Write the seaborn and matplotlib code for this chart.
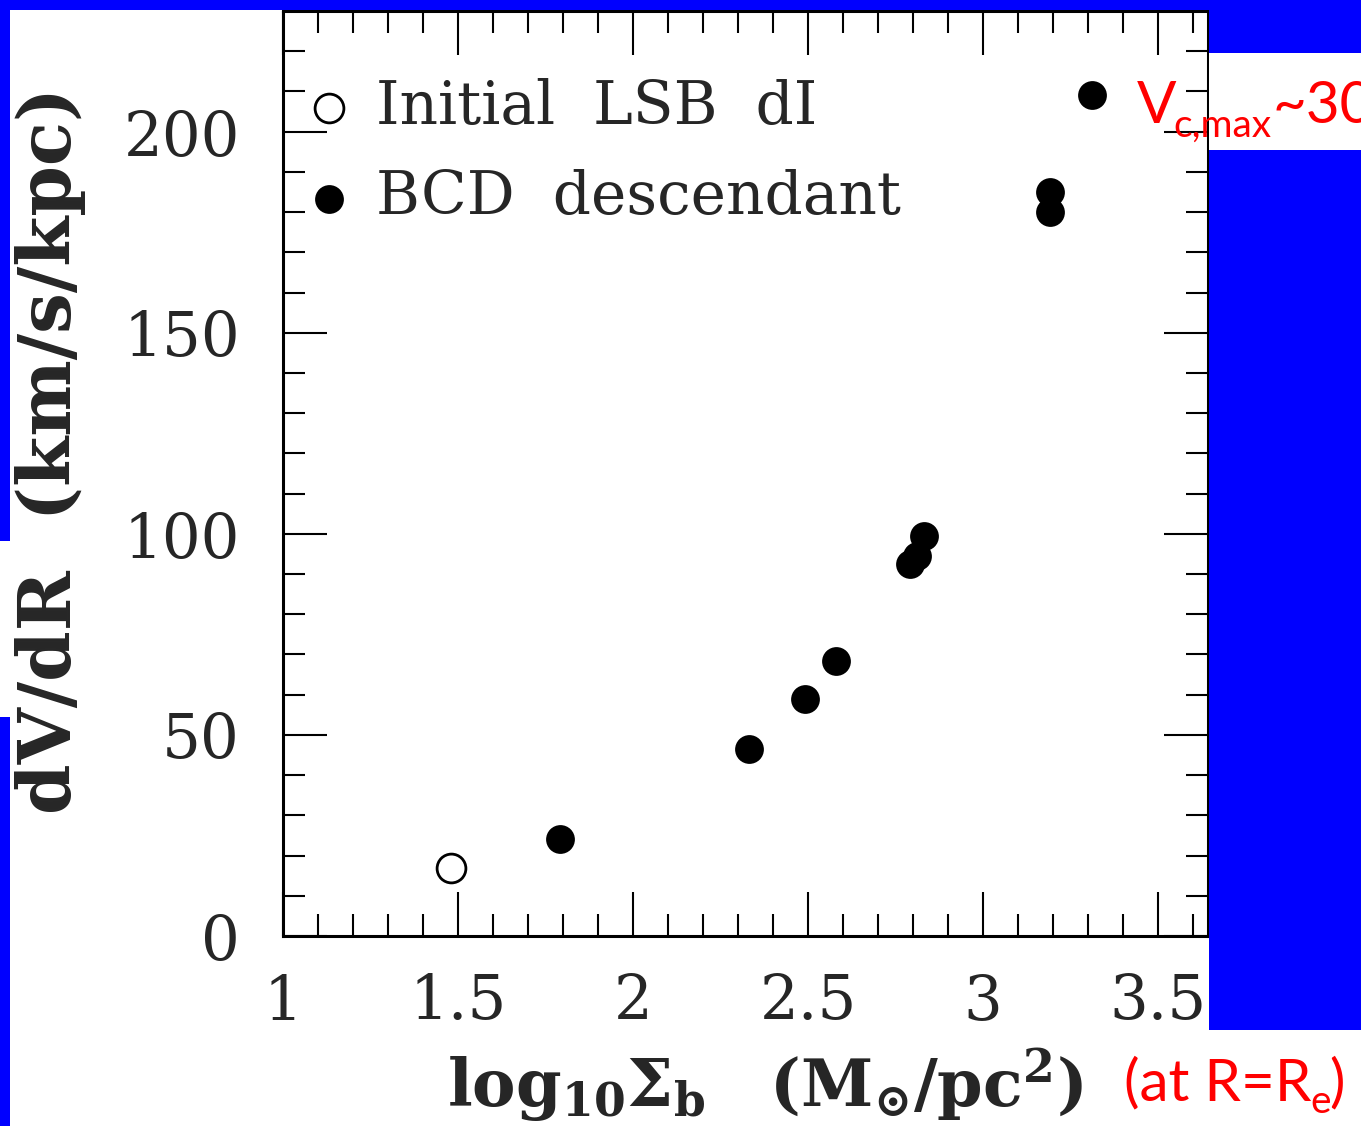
import matplotlib
matplotlib.use('Agg')
import matplotlib.pyplot as plt
import seaborn as sns
from matplotlib.patches import Rectangle
from matplotlib.ticker import MultipleLocator

# data -------------------------------------------------------------------
lsb_x = [1.48]
lsb_y = [17.0]
bcd_x = [1.79, 2.33, 2.49, 2.58, 2.79, 2.81, 2.83, 3.19, 3.19, 3.31]
bcd_y = [24.0, 46.5, 59.0, 68.5, 92.5, 94.5, 99.5, 180.0, 185.0, 209.0]

x_ticks = [1, 1.5, 2, 2.5, 3, 3.5]
x_tick_labels = ['1', '1.5', '2', '2.5', '3', '3.5']
y_ticks = [0, 50, 100, 150, 200]

# style ----------------------------------------------------------------
sns.set_style('ticks')
plt.rcParams['font.family'] = ['DejaVu Serif']
plt.rcParams['mathtext.fontset'] = 'dejavuserif'

W, H = 1361, 1126
fig = plt.figure(figsize=(W / 100, H / 100), dpi=100)
fig.patch.set_facecolor('white')
ax = fig.add_axes([283 / W, 1 - 936 / H, (1208 - 283) / W, (936 - 11) / H])

sns.scatterplot(x=lsb_x, y=lsb_y, ax=ax, s=430, facecolor='white',
                edgecolor='black', linewidth=2, label='Initial  LSB  dI', zorder=3)
sns.scatterplot(x=bcd_x, y=bcd_y, ax=ax, s=430, color='black',
                edgecolor='black', linewidth=0, label='BCD  descendant', zorder=3)

ax.set_xlim(1, 1 + (1208 - 283) / 350)
ax.set_ylim(0, 230)
ax.set_xticks(x_ticks)
ax.set_xticklabels(x_tick_labels)
ax.set_yticks(y_ticks)
ax.xaxis.set_minor_locator(MultipleLocator(0.1))
ax.yaxis.set_minor_locator(MultipleLocator(10))

ax.tick_params(which='both', direction='in', top=True, right=True,
               width=1.5, color='black')
ax.tick_params(which='major', length=32, labelsize=44)
ax.tick_params(which='minor', length=16)
ax.tick_params(axis='x', pad=26)
ax.tick_params(axis='y', pad=31)
for sp in ax.spines.values():
    sp.set_linewidth(2.2)
    sp.set_color('black')

ax.set_ylabel('dV/dR  (km/s/kpc)', fontsize=52, fontweight='bold',
              ha='center', va='center')
ax.yaxis.set_label_coords((50 - 283) / 925, (936 - 450) / 925)
ax.set_xlabel(r'$\mathbf{log_{10}\Sigma_b}$   $\mathbf{(M_{\odot}/pc^2)}$',
              fontsize=47, ha='center', va='center')
ax.xaxis.set_label_coords((765 - 283) / 925, (936 - 1085) / 925)

ax.legend(loc='upper left', bbox_to_anchor=(0.0175, 0.928), frameon=False,
          fontsize=43, handlelength=1.0, handletextpad=0.28, borderpad=0,
          borderaxespad=0, labelspacing=0.55)

# slide background pieces ---------------------------------------------
def px_rect(x0, y0, w, h, color):
    fig.add_artist(Rectangle((x0 / W, 1 - (y0 + h) / H), w / W, h / H,
                             transform=fig.transFigure, facecolor=color,
                             edgecolor='none', zorder=1))

blue = (0, 0, 1)
px_rect(0, 0, W, 9.5, blue)
px_rect(0, 0, 10, 541, blue)
px_rect(0, 717, 10, H - 717, blue)
px_rect(1209, 0, W - 1209, 1030, blue)
px_rect(1209, 53, W - 1209, 97, 'white')

# red slide annotations
red_kw = dict(color='red', family='Lato', ha='left', va='baseline', zorder=4)
fig.text(1137 / W, 1 - 123 / H, 'V', fontsize=42, **red_kw)
fig.text(1173 / W, 1 - 137 / H, 'c,max', fontsize=28, **red_kw)
fig.text(1272 / W, 1 - 123 / H, '~30', fontsize=42, **red_kw)
fig.text(1124 / W, 1 - 1100 / H, '(at R=R', fontsize=42, **red_kw)
fig.text(1310 / W, 1 - 1113 / H, 'e', fontsize=28, **red_kw)
fig.text(1329 / W, 1 - 1100 / H, ')', fontsize=42, **red_kw)

fig.savefig('out.png', dpi=100)
